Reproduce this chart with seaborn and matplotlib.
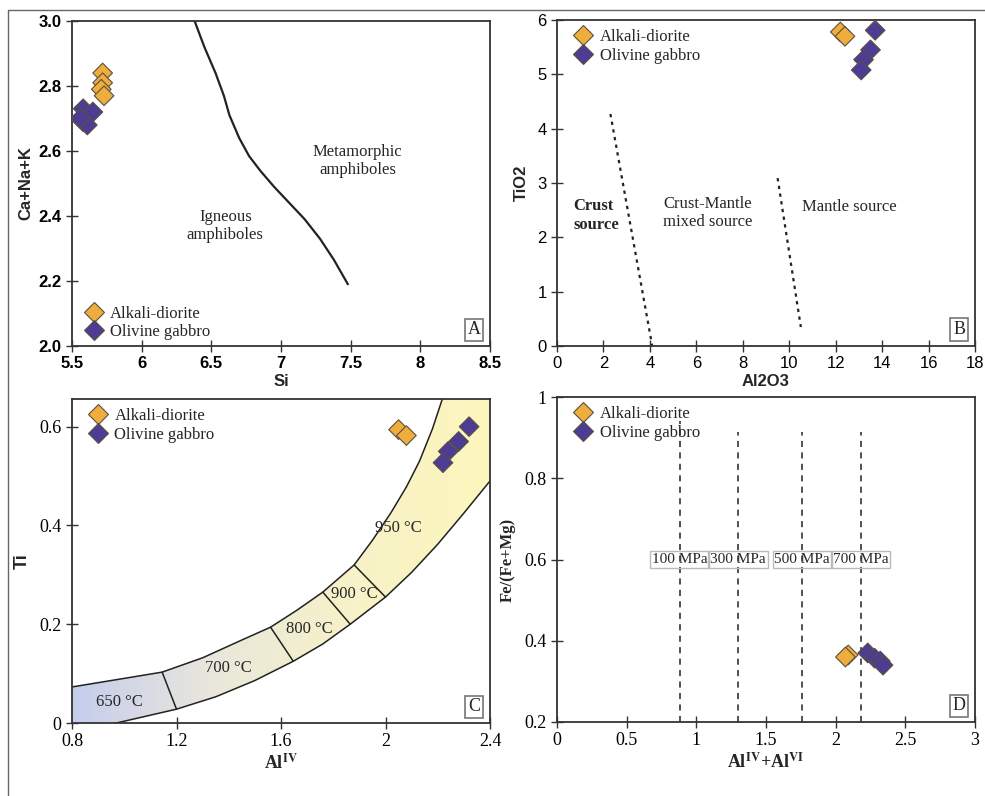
import numpy as np
import pandas as pd
import matplotlib
matplotlib.use("Agg")
import matplotlib.pyplot as plt
import seaborn as sns
from matplotlib.patches import Polygon
from matplotlib.lines import Line2D
from matplotlib.colors import LinearSegmentedColormap

# ---------------- data ----------------
rocks = ["Alkali-diorite", "Olivine gabbro"]
colors = {"Alkali-diorite": "#EEAD3C", "Olivine gabbro": "#4D3C93"}

# Panel A
a_dio_si = [5.72, 5.72, 5.71, 5.73]
a_dio_cnk = [2.84, 2.81, 2.79, 2.77]
a_gab_si = [5.58, 5.65, 5.58, 5.61, 5.56]
a_gab_cnk = [2.73, 2.72, 2.69, 2.68, 2.70]
a_curve_si = [6.38, 6.45, 6.53, 6.59, 6.63, 6.70, 6.77, 6.85, 6.95, 7.06, 7.17, 7.28, 7.38, 7.48]
a_curve_cnk = [3.00, 2.92, 2.84, 2.77, 2.71, 2.64, 2.585, 2.54, 2.49, 2.44, 2.39, 2.33, 2.265, 2.19]

# Panel B
b_dio_al = [12.2, 12.4]
b_dio_ti = [5.78, 5.70]
b_gab_al = [13.7, 13.5, 13.2, 13.1]
b_gab_ti = [5.81, 5.45, 5.27, 5.08]
b_line1_al = [2.3, 4.1]
b_line1_ti = [4.27, 0.0]
b_line2_al = [9.5, 10.5]
b_line2_ti = [3.09, 0.35]

# Panel C
c_dio_al = [2.05, 2.08]
c_dio_ti = [0.594, 0.582]
c_gab_al = [2.32, 2.28, 2.24, 2.22]
c_gab_ti = [0.600, 0.570, 0.550, 0.527]
band_upper_al = [0.50, 0.80, 0.95, 1.145, 1.30, 1.45, 1.56, 1.66, 1.76, 1.88, 1.95, 2.02, 2.08, 2.13, 2.18, 2.22, 2.26]
band_upper_ti = [0.040, 0.073, 0.086, 0.103, 0.132, 0.168, 0.194, 0.228, 0.265, 0.320, 0.370, 0.425, 0.478, 0.530, 0.596, 0.66, 0.74]
band_lower_al = [0.50, 0.97, 1.20, 1.35, 1.50, 1.647, 1.76, 1.865, 2.00, 2.10, 2.20, 2.30, 2.40, 2.45]
band_lower_ti = [-0.06, 0.0, 0.028, 0.053, 0.086, 0.125, 0.160, 0.200, 0.255, 0.305, 0.362, 0.425, 0.490, 0.53]
iso_al = [(1.145, 1.20), (1.56, 1.647), (1.76, 1.865), (1.88, 2.00)]
iso_ti = [(0.103, 0.028), (0.194, 0.125), (0.265, 0.200), (0.320, 0.255)]
temp_labels = ["650 °C", "700 °C", "800 °C", "900 °C", "950 °C"]
temp_al = [0.98, 1.40, 1.71, 1.88, 2.05]
temp_ti = [0.042, 0.112, 0.19, 0.262, 0.395]

# Panel D
d_dio_al = [2.09, 2.07]
d_dio_fe = [0.365, 0.360]
d_gab_al = [2.23, 2.28, 2.32, 2.34]
d_gab_fe = [0.370, 0.357, 0.350, 0.340]
press_al = [0.88, 1.30, 1.76, 2.18]
press_top = [0.94, 0.915, 0.915, 0.915]
press_labels = ["100 MPa", "300 MPa", "500 MPa", "700 MPa"]


def frame(xs1, ys1, xs2, ys2):
    return pd.DataFrame({
        "x": list(xs1) + list(xs2),
        "y": list(ys1) + list(ys2),
        "rock": [rocks[0]] * len(xs1) + [rocks[1]] * len(xs2),
    })


# ---------------- figure ----------------
sns.set_theme(style="ticks")
plt.rcParams["font.family"] = ["Liberation Serif", "DejaVu Serif"]
plt.rcParams["mathtext.fontset"] = "stix"

W, H = 985, 796
fig = plt.figure(figsize=(W / 100, H / 100), dpi=100)


def add_ax(l, t, r, b):
    return fig.add_axes([l / W, 1 - b / H, (r - l) / W, (b - t) / H])


axA = add_ax(72, 21, 490, 346)
axB = add_ax(557, 20, 975, 346)
axC = add_ax(72, 399, 490, 723)
axD = add_ax(557, 397, 975, 722)

serif = {"family": "Liberation Serif"}
sansb = {"family": "Liberation Sans", "weight": "bold"}


def style(ax, tickfont, labelsize=11):
    for s in ax.spines.values():
        s.set_visible(True)
        s.set_color("#333333")
        s.set_linewidth(1.3)
    ax.tick_params(direction="inout", length=9, width=1, colors="#333333",
                   labelsize=labelsize, labelcolor="black", pad=3)
    for lab in ax.get_xticklabels() + ax.get_yticklabels():
        lab.set_fontfamily(tickfont["family"])
        lab.set_fontweight(tickfont.get("weight", "normal"))


def scatter(ax, df, legend_loc, bbox=None):
    sns.scatterplot(data=df, x="x", y="y", hue="rock", palette=colors, marker="D",
                    s=100, edgecolor="#5a5040", linewidth=0.8, ax=ax, zorder=5,
                    legend=True)
    kw = dict(loc=legend_loc, frameon=False, prop={"family": "Liberation Serif", "size": 12},
              handletextpad=0.0, borderaxespad=0.15, labelspacing=0.15, markerscale=1.0)
    if bbox is not None:
        kw["bbox_to_anchor"] = bbox
    ax.legend(**kw)


def panel_letter(ax, letter):
    ax.text(0.962, 0.05, letter, transform=ax.transAxes, ha="center", va="center",
            fontsize=13, family="Liberation Serif",
            bbox=dict(boxstyle="square,pad=0.15", fc="white", ec="#777777", lw=1.2))


# ---- Panel A ----
scatter(axA, frame(a_dio_si, a_dio_cnk, a_gab_si, a_gab_cnk), "lower left", (-0.01, -0.01))
axA.plot(a_curve_si, a_curve_cnk, color="#222222", lw=1.6)
axA.text(7.55, 2.57, "Metamorphic\namphiboles", ha="center", va="center", fontsize=12, **serif)
axA.text(6.6, 2.37, "Igneous\namphiboles", ha="center", va="center", fontsize=12, **serif)
axA.set_xlim(5.5, 8.5)
axA.set_ylim(2.0, 3.0)
axA.set_xticks([5.5, 6, 6.5, 7, 7.5, 8, 8.5])
axA.set_xticklabels(["5.5", "6", "6.5", "7", "7.5", "8", "8.5"])
axA.set_yticks([2.0, 2.2, 2.4, 2.6, 2.8, 3.0])
axA.set_yticklabels(["2.0", "2.2", "2.4", "2.6", "2.8", "3.0"])
axA.set_xlabel("Si", fontsize=12, labelpad=2, **sansb)
axA.set_ylabel("Ca+Na+K", fontsize=12, labelpad=4, **sansb)
style(axA, sansb, 12)
panel_letter(axA, "A")

# ---- Panel B ----
scatter(axB, frame(b_dio_al, b_dio_ti, b_gab_al, b_gab_ti), "upper left", (0.0, 1.0))
axB.plot(b_line1_al, b_line1_ti, color="#222222", lw=1.6, ls=(0, (1.5, 2.0)))
axB.plot(b_line2_al, b_line2_ti, color="#222222", lw=1.6, ls=(0, (1.5, 2.0)))
axB.text(0.7, 2.4, "Crust\nsource", ha="left", va="center", fontsize=12,
         fontweight="bold", linespacing=1.3, **serif)
axB.text(6.5, 2.45, "Crust-Mantle\nmixed source", ha="center", va="center", fontsize=12,
         linespacing=1.2, **serif)
axB.text(12.6, 2.55, "Mantle source", ha="center", va="center", fontsize=12, **serif)
axB.set_xlim(0, 18)
axB.set_ylim(0, 6)
axB.set_xticks(range(0, 19, 2))
axB.set_yticks(range(0, 7))
axB.set_xlabel("Al2O3", fontsize=12, labelpad=2, **sansb)
axB.set_ylabel("TiO2", fontsize=12, labelpad=6, **sansb)
style(axB, {"family": "Liberation Sans"}, 12)
panel_letter(axB, "B")

# ---- Panel C ----
# band outline: upper edge, a corner outside the axes, then lower edge back
poly_pts = (list(zip(band_upper_al, band_upper_ti)) + [(2.6, 0.9)]
            + list(zip(band_lower_al[::-1], band_lower_ti[::-1])))
band = Polygon(poly_pts, closed=True, fc="none", ec="none", transform=axC.transData)
axC.add_patch(band)
cmap = LinearSegmentedColormap.from_list("band", ["#c5cdec", "#e9e7dc", "#f7f2c8", "#fdf6bd"])
grad = np.linspace(0, 1, 256).reshape(1, -1)
im = axC.imshow(grad, extent=(0.8, 2.4, 0, 0.66), aspect="auto", cmap=cmap,
                origin="lower", zorder=1)
im.set_clip_path(band)
axC.plot(band_upper_al, band_upper_ti, color="#222222", lw=1.1, zorder=2)
axC.plot(band_lower_al, band_lower_ti, color="#222222", lw=1.1, zorder=2)
for xs, ys in zip(iso_al, iso_ti):
    axC.plot(xs, ys, color="#222222", lw=1.1, zorder=2)
for t, x, y in zip(temp_labels, temp_al, temp_ti):
    axC.text(x, y, t, ha="center", va="center", fontsize=12, zorder=3, **serif)
scatter(axC, frame(c_dio_al, c_dio_ti, c_gab_al, c_gab_ti), "upper left", (0.0, 1.0))
axC.set_xlim(0.8, 2.4)
axC.set_ylim(0, 0.656)
axC.set_xticks([0.8, 1.2, 1.6, 2.0, 2.4])
axC.set_xticklabels(["0.8", "1.2", "1.6", "2", "2.4"])
axC.set_yticks([0, 0.2, 0.4, 0.6])
axC.set_yticklabels(["0", "0.2", "0.4", "0.6"])
axC.set_xlabel(r"Al$^{\mathbf{IV}}$", fontsize=13, labelpad=2, fontweight="bold", **serif)
axC.set_ylabel("Ti", fontsize=13, labelpad=6, **sansb)
style(axC, {"family": "Liberation Serif"}, 13)
panel_letter(axC, "C")

# ---- Panel D ----
for x, top in zip(press_al, press_top):
    axD.plot([x, x], [0.2, top], color="#222222", lw=1.1, ls=(0, (4, 3.5)))
for t, x in zip(press_labels, press_al):
    axD.text(x, 0.6, t, ha="center", va="center", fontsize=11, zorder=4, **serif,
             bbox=dict(boxstyle="square,pad=0.12", fc="none", ec="#bbbbbb", lw=1.0))
scatter(axD, frame(d_dio_al, d_dio_fe, d_gab_al, d_gab_fe), "upper left", (0.0, 1.0))
axD.set_xlim(0, 3)
axD.set_ylim(0.2, 1.0)
axD.set_xticks([0, 0.5, 1, 1.5, 2, 2.5, 3])
axD.set_xticklabels(["0", "0.5", "1", "1.5", "2", "2.5", "3"])
axD.set_yticks([0.2, 0.4, 0.6, 0.8, 1.0])
axD.set_yticklabels(["0.2", "0.4", "0.6", "0.8", "1"])
axD.set_xlabel(r"Al$^{\mathbf{IV}}$+Al$^{\mathbf{VI}}$", fontsize=13, labelpad=2,
               fontweight="bold", **serif)
axD.set_ylabel("Fe/(Fe+Mg)", fontsize=12, labelpad=6, fontweight="bold", **serif)
style(axD, {"family": "Liberation Serif"}, 13)
panel_letter(axD, "D")

# figure frame (open at right and bottom)
fig.add_artist(Line2D([8 / W, 8 / W], [0, 1 - 10 / H], color="#666666", lw=1.0,
                      transform=fig.transFigure))
fig.add_artist(Line2D([8 / W, 1], [1 - 10 / H, 1 - 10 / H], color="#666666", lw=1.0,
                      transform=fig.transFigure))

fig.savefig("out.png", dpi=100)
